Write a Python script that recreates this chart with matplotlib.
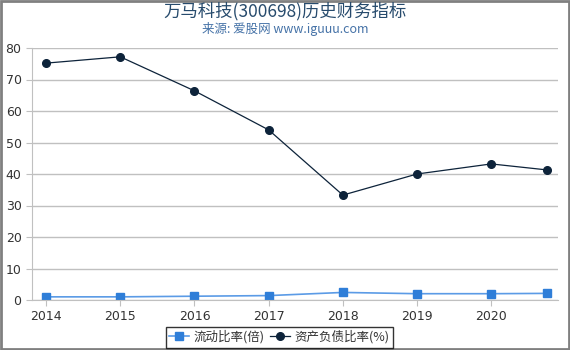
import matplotlib
matplotlib.use("Agg")
import matplotlib.pyplot as plt

plt.rcParams["font.family"] = ["Noto Sans CJK SC", "DejaVu Sans"]

years = [2014, 2015, 2016, 2017, 2018, 2019, 2020, 2020.75]
tick_years = [2014, 2015, 2016, 2017, 2018, 2019, 2020]
current_ratio = [1.0, 1.0, 1.2, 1.4, 2.4, 2.0, 2.0, 2.1]
debt_ratio = [75.2, 77.2, 66.4, 54.0, 33.3, 40.0, 43.2, 41.3]

fig = plt.figure(figsize=(5.7, 3.5), dpi=100)
ax = fig.add_axes([32 / 570, 50 / 350, 526 / 570, 252 / 350])

ax.plot(years, current_ratio, color="#5B9BE6", linewidth=1.2, marker="s",
        markersize=5.5, markerfacecolor="#2F7ED8", markeredgecolor="#2F7ED8",
        label="流动比率(倍)")
ax.plot(years, debt_ratio, color="#0D233A", linewidth=0.9, marker="o",
        markersize=5.5, markerfacecolor="#0D233A", markeredgecolor="#0D233A",
        label="资产负债比率(%)")

ax.set_xlim(2013.81, 2020.9)
ax.set_ylim(0, 80)
ax.set_yticks(range(0, 81, 10))
ax.set_xticks(tick_years)
ax.set_xticklabels([str(y) for y in tick_years])
ax.grid(axis="y", color="#C0C0C0", linewidth=1)
ax.set_axisbelow(True)
for side in ["top", "right"]:
    ax.spines[side].set_visible(False)
ax.spines["left"].set_color("#C0C0C0")
ax.spines["bottom"].set_color("#C0C0C0")
ax.tick_params(axis="both", colors="#C0C0C0", labelcolor="#333333", labelsize=9, length=4)
for lbl in ax.get_xticklabels() + ax.get_yticklabels():
    lbl.set_fontfamily("DejaVu Sans")

fig.text(0.5, 0.968, "万马科技(300698)历史财务指标", ha="center", va="center",
         fontsize=12.5, color="#274B6D")
fig.text(0.5, 0.918, "来源: 爱股网 www.iguuu.com", ha="center", va="center",
         fontsize=9, color="#4572A7")

leg = fig.legend(loc="center", bbox_to_anchor=(0.49, 0.037), ncol=2, fontsize=9,
                 frameon=True, fancybox=False, handlelength=1.6, handletextpad=0.3,
                 columnspacing=0.5, borderpad=0.3)
leg.get_frame().set_edgecolor("#000000")
leg.get_frame().set_linewidth(1)
for t in leg.get_texts():
    t.set_color("#333333")

fig.patches.append(plt.Rectangle((0.002, 0.003), 0.996, 0.994, transform=fig.transFigure,
                                 fill=False, edgecolor="#808080", linewidth=2))

fig.savefig("out.png", dpi=100)
